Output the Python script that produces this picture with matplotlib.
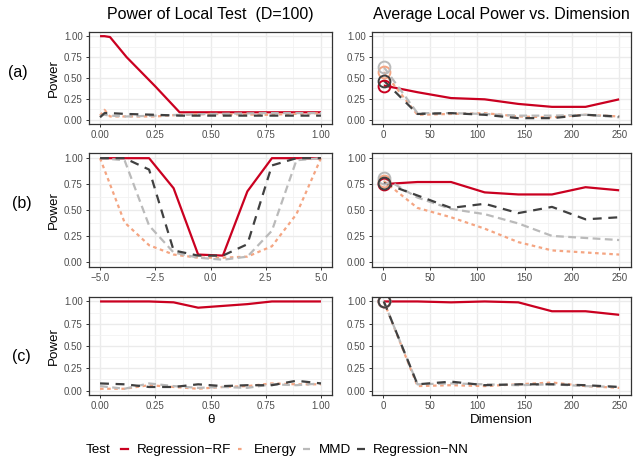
import numpy as np
import matplotlib
matplotlib.use('Agg')
import matplotlib.pyplot as plt
from matplotlib.lines import Line2D
from matplotlib.ticker import MultipleLocator

plt.rcParams['font.family'] = ['Liberation Sans', 'DejaVu Sans']

tests = ['Regression\u2212RF', 'Energy', 'MMD', 'Regression\u2212NN']
colors = ['#CA0020', '#F4A582', '#BABABA', '#404040']
styles = ['-', (0, (1.6, 1.6)), (0, (3.5, 2)), (0, (4, 3))]

dims = [1, 36.6, 72.1, 107.7, 143.3, 178.9, 214.4, 250]

# row (a)
theta_a = [0, 0.02, 0.045, 0.12, 0.25, 0.36, 0.5, 0.75, 1.0]
local_a = [
    [1.0, 1.0, 0.99, 0.75, 0.40, 0.09, 0.09, 0.09, 0.09],
    [0.05, 0.12, 0.04, 0.04, 0.04, 0.06, 0.07, 0.06, 0.08],
    [0.05, 0.06, 0.05, 0.04, 0.05, 0.06, 0.07, 0.08, 0.08],
    [0.03, 0.08, 0.08, 0.07, 0.06, 0.05, 0.05, 0.05, 0.05],
]
dim_a = [
    [0.41, 0.33, 0.26, 0.245, 0.19, 0.155, 0.155, 0.245],
    [0.57, 0.06, 0.07, 0.08, 0.04, 0.03, 0.06, 0.04],
    [0.63, 0.08, 0.08, 0.07, 0.05, 0.05, 0.06, 0.03],
    [0.47, 0.07, 0.08, 0.06, 0.02, 0.02, 0.06, 0.04],
]

# row (b)
theta_b = [-5.0, -3.89, -2.78, -1.67, -0.56, 0.56, 1.67, 2.78, 3.89, 5.0]
local_b = [
    [1.0, 1.0, 1.0, 0.71, 0.07, 0.06, 0.68, 1.0, 1.0, 1.0],
    [1.0, 0.38, 0.16, 0.07, 0.04, 0.04, 0.05, 0.15, 0.46, 1.0],
    [1.0, 0.98, 0.35, 0.09, 0.04, 0.02, 0.05, 0.30, 0.98, 1.0],
    [1.0, 1.0, 0.89, 0.11, 0.06, 0.06, 0.17, 0.93, 1.0, 1.0],
]
dim_b = [
    [0.75, 0.77, 0.77, 0.67, 0.65, 0.65, 0.72, 0.69],
    [0.78, 0.52, 0.43, 0.32, 0.19, 0.11, 0.09, 0.07],
    [0.81, 0.62, 0.51, 0.46, 0.37, 0.25, 0.23, 0.21],
    [0.76, 0.64, 0.52, 0.56, 0.47, 0.53, 0.41, 0.43],
]

# row (c)
theta_c = [0, 0.111, 0.222, 0.333, 0.444, 0.556, 0.667, 0.778, 0.889, 1.0]
local_c = [
    [1.0, 1.0, 1.0, 0.99, 0.93, 0.95, 0.97, 1.0, 1.0, 1.0],
    [0.02, 0.02, 0.06, 0.04, 0.02, 0.04, 0.05, 0.08, 0.07, 0.07],
    [0.05, 0.02, 0.08, 0.05, 0.03, 0.04, 0.03, 0.07, 0.06, 0.08],
    [0.08, 0.07, 0.04, 0.04, 0.07, 0.05, 0.06, 0.06, 0.11, 0.08],
]
dim_c = [
    [1.0, 1.0, 0.99, 1.0, 0.99, 0.89, 0.89, 0.85],
    [1.0, 0.05, 0.06, 0.05, 0.07, 0.09, 0.05, 0.03],
    [1.0, 0.07, 0.08, 0.07, 0.06, 0.07, 0.05, 0.04],
    [1.0, 0.07, 0.10, 0.06, 0.07, 0.07, 0.06, 0.04],
]

W, H = 634, 458
fig = plt.figure(figsize=(W / 100, H / 100), dpi=100)


def box(x0, x1, y0, y1):
    return [x0 / W, 1 - y1 / H, (x1 - x0) / W, (y1 - y0) / H]


def style_ax(ax, xlim, major, minor):
    ax.set_xlim(*xlim)
    ax.set_ylim(-0.05, 1.05)
    ax.xaxis.set_major_locator(MultipleLocator(major))
    ax.xaxis.set_minor_locator(MultipleLocator(minor))
    ax.yaxis.set_major_locator(MultipleLocator(0.25))
    ax.yaxis.set_minor_locator(MultipleLocator(0.125))
    ax.grid(which='major', color='#EBEBEB', lw=1.0)
    ax.grid(which='minor', color='#F2F2F2', lw=0.6)
    ax.set_axisbelow(True)
    for s in ax.spines.values():
        s.set_color('#333333')
        s.set_linewidth(0.9)
    ax.tick_params(which='major', length=2.5, width=0.7, color='#333333',
                   labelsize=7, labelcolor='#4D4D4D', pad=2)
    ax.tick_params(which='minor', length=0)


rows = [
    (theta_a, local_a, dim_a, (-0.05, 1.05), 0.25, 0.125, '{:.2f}', (32, 124), 'a', 18, 73),
    (theta_b, local_b, dim_b, (-5.5, 5.5), 2.5, 1.25, '{:.1f}', (153, 267), 'b', 22, 204),
    (theta_c, local_c, dim_c, (-0.05, 1.05), 0.25, 0.125, '{:.2f}', (297, 395), 'c', 21, 356),
]

for theta, local, dimv, xlim, major, minor, fmt, (top, bot), lab, lx, ly in rows:
    axl = fig.add_axes(box(89, 332, top, bot))
    axr = fig.add_axes(box(372, 631, top, bot))
    for i in range(4):
        axl.plot(theta, local[i], color=colors[i], ls=styles[i], lw=1.6,
                 solid_capstyle='butt', dash_capstyle='butt')
        axr.plot(dims, dimv[i], color=colors[i], ls=styles[i], lw=1.6,
                 solid_capstyle='butt', dash_capstyle='butt')
    for i in range(4):
        axr.plot(dims[0], dimv[i][0], 'o', mfc='none', mec=colors[i], ms=8.5, mew=1.4)
    style_ax(axl, xlim, major, minor)
    style_ax(axr, (-11.5, 262.5), 50, 25)
    axl.xaxis.set_major_formatter(matplotlib.ticker.FuncFormatter(
        lambda v, p, f=fmt: f.format(v).replace('-', '\u2212')))
    axl.yaxis.set_major_formatter(matplotlib.ticker.FormatStrFormatter('%.2f'))
    axr.yaxis.set_major_formatter(matplotlib.ticker.FormatStrFormatter('%.2f'))
    axl.set_ylabel('Power', fontsize=9.6, labelpad=3)
    fig.text(lx / W, 1 - ly / H, f'({lab})', fontsize=11.5, ha='center', va='center')
    if lab == 'c':
        axl.set_xlabel('\u03b8', fontsize=9.6, labelpad=2)
        axr.set_xlabel('Dimension', fontsize=9.6, labelpad=2)

fig.text(210 / W, 1 - 15 / H, 'Power of Local Test  (D=100)', fontsize=11.5,
         ha='center', va='center')
fig.text(501 / W, 1 - 15 / H, 'Average Local Power vs. Dimension', fontsize=11.5,
         ha='center', va='center')

# legend along the bottom
handles = [Line2D([], [], color=colors[i], ls=styles[i], lw=1.6) for i in range(4)]
fig.text(86 / W, 1 - 450 / H, 'Test', fontsize=9.7, ha='left', va='center')
fig.legend(handles, tests, loc='center left', bbox_to_anchor=(121 / W, 1 - 450 / H),
           ncol=4, frameon=False, fontsize=9.7, handlelength=0.55,
           handletextpad=0.65, columnspacing=0.45, borderpad=0, borderaxespad=0)

fig.savefig('out.png', dpi=100)
